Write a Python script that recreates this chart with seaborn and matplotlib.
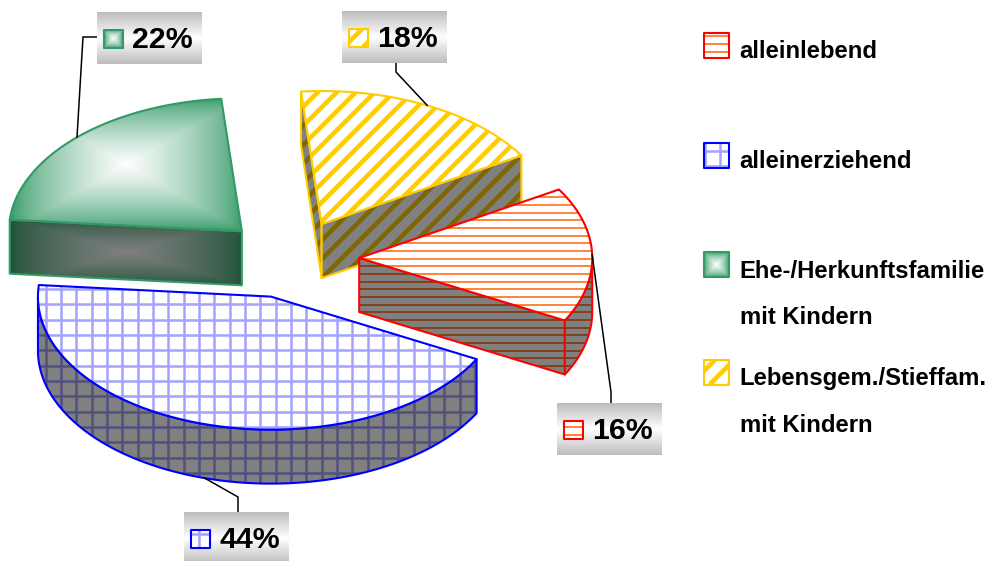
import numpy as np
import matplotlib
matplotlib.use("Agg")
import matplotlib.pyplot as plt
import seaborn as sns
from matplotlib.collections import LineCollection
from matplotlib.patches import Polygon

# ── Data ──────────────────────────────────────────────────────────────────────
categories = ["alleinlebend", "alleinerziehend",
              "Ehe-/Herkunftsfamilie\nmit Kindern",
              "Lebensgem./Stieffam.\nmit Kindern"]
shares = [16.4, 43.6, 22.2, 17.8]

# ── Look of the slices ────────────────────────────────────────────────────────
EDGES = ["#FF0000", "#0000FF", "#339966", "#FFCC00"]
HATCH_TOP = ["#FF7A26", "#A3A3FF", None, "#FFCC00"]
HATCH_SIDE = ["#803D13", "#515180", None, "#806600"]
HATCH_KIND = ["horizontal", "grid", "gradient", "diagonal"]

# pie geometry in pixels
CX, CY = 290.5, 259
RX, RY = 233, 133
DEPTH = 54
EXPLODE = 0.295
START = 31

# label boxes: x, y of the box corner, and the elbow of the leader line
BOXES = [(557, 403), (184, 512), (97, 12), (342, 11)]
ELBOWS = [(611, 392), (238, 497), (83, 37), (396, 72)]
BOX_W, BOX_H = 105, 52
LEADER_ENDS = [(611, 403), (238, 512), (97, 37), (396, 62)]

LEGEND_KEYS_Y = [33, 143, 252, 360]
LEGEND_LINE_Y = [[51], [161], [271, 317], [378, 425]]

FONT = ["Liberation Sans", "DejaVu Sans"]


def ell(t, apex, drop=0):
    t = np.radians(t)
    return np.column_stack([apex[0] + RX * np.cos(t), apex[1] - RY * np.sin(t) + drop])


def hatch(ax, patch, kind, color, lw):
    x0, y0 = patch.get_xy().min(axis=0)
    x1, y1 = patch.get_xy().max(axis=0)
    segs = []
    if kind == "horizontal":
        for y in 212.7 + 7.67 * np.arange(-40, 60):
            if y0 <= y <= y1:
                segs.append([(x0, y), (x1, y)])
    elif kind == "grid":
        for y in 289 + 15.33 * np.arange(-30, 30):
            if y0 <= y <= y1:
                segs.append([(x0, y), (x1, y)])
        for x in 45.7 + 15.33 * np.arange(-10, 70):
            if x0 <= x <= x1:
                segs.append([(x, y0), (x, y1)])
    elif kind == "diagonal":
        for c in 11 + 19 * np.arange(0, 100):
            segs.append([(c - y0, y0), (c - y1, y1)])
    lc = LineCollection(segs, colors=color, linewidths=lw, zorder=patch.get_zorder())
    ax.add_collection(lc, autolim=False)
    lc.set_clip_path(patch)


def rect_gradient(ax, patch, cmap):
    x0, y0 = patch.get_xy().min(axis=0)
    x1, y1 = patch.get_xy().max(axis=0)
    u, v = np.meshgrid(np.linspace(-1, 1, 200), np.linspace(-1, 1, 200))
    level = (1 - np.maximum(abs(u), abs(v))) ** 0.7
    im = ax.imshow(level, cmap=cmap, vmin=0, vmax=1,
                   extent=(x0, x1, y1, y0), aspect="auto",
                   zorder=patch.get_zorder(), interpolation="bilinear")
    im.set_clip_path(patch)


def face(ax, pts, i, top, z):
    # one face of a slice: fill, pattern, outline
    kind = HATCH_KIND[i]
    base = Polygon(pts, closed=True, facecolor="white" if top else "#808080",
                   edgecolor="none", zorder=z)
    ax.add_patch(base)
    if kind == "gradient":
        rect_gradient(ax, base, GREEN_TOP if top else GREEN_SIDE)
    else:
        width = {"horizontal": 1.3, "grid": 1.8, "diagonal": 3.3}[kind]
        hatch(ax, base, kind, HATCH_TOP[i] if top else HATCH_SIDE[i], width)
    ax.add_patch(Polygon(pts, closed=True, facecolor="none", edgecolor=EDGES[i],
                         linewidth=1.5, joinstyle="round", zorder=z))


def key(ax, x, y, size, i, z=20):
    pts = [(x, y), (x + size, y), (x + size, y + size), (x, y + size)]
    face(ax, pts, i, True, z)


sns.set_theme(style="white")
plt.rcParams["font.family"] = FONT

GREEN_TOP = sns.blend_palette(["#339966", "#FFFFFF"], as_cmap=True)
GREEN_SIDE = sns.blend_palette(["#1F5237", "#808080"], as_cmap=True)
BOX_CMAP = sns.blend_palette(["#BDBDBD", "#FFFFFF", "#BDBDBD"], as_cmap=True)

fig = plt.figure(figsize=(9.93, 5.61), dpi=100)
ax = fig.add_axes([0, 0, 1, 1])

# ── Slices ────────────────────────────────────────────────────────────────────
stops = START - 3.6 * np.concatenate([[0], np.cumsum(shares)])
anchors = []
apexes = []
for i in range(len(shares)):
    t0, t1 = stops[i], stops[i + 1]
    mid = np.radians((t0 + t1) / 2)
    apex = (CX + EXPLODE * RX * np.cos(mid), CY - EXPLODE * RY * np.sin(mid))
    apexes.append(apex)
    # leader line starts on the rim, on the lower edge for the front slice
    drop = DEPTH if np.sin(mid) < -0.5 else 0
    anchors.append(ell(np.degrees(mid), apex, drop)[0])

draw_order = [3, 2, 0, 1]
for n, i in enumerate(draw_order):
    t0, t1 = stops[i], stops[i + 1]
    apex = apexes[i]
    z = 5 + n
    arc = ell(np.linspace(t0, t1, 160), apex)

    # walls that face the viewer
    for t, visible in [(t0, np.cos(np.radians(t0)) < 0), (t1, np.cos(np.radians(t1)) > 0)]:
        if visible:
            rim = ell(t, apex)[0]
            pts = [apex, rim, (rim[0], rim[1] + DEPTH), (apex[0], apex[1] + DEPTH)]
            face(ax, pts, i, False, z)
    ts = np.linspace(t0, t1, 300)
    ts = ts[np.sin(np.radians(ts)) < 0]
    if len(ts):
        upper = ell(ts, apex)
        lower = ell(ts[::-1], apex, DEPTH)
        face(ax, np.vstack([upper, lower]), i, False, z)

    # top of the slice
    face(ax, np.vstack([[apex], arc]), i, True, z + 0.5)

# ── Leader lines and value boxes ──────────────────────────────────────────────
for i, share in enumerate(shares):
    a = anchors[i]
    ex, ey = ELBOWS[i]
    lx, ly = LEADER_ENDS[i]
    ax.plot([a[0], ex, lx], [a[1], ey, ly], color="black", lw=1.1, zorder=15,
            solid_joinstyle="miter")
    bx, by = BOXES[i]
    g = np.linspace(0, 1, 100).reshape(-1, 1)
    ax.imshow(g, cmap=BOX_CMAP, vmin=0, vmax=1, aspect="auto",
              extent=(bx, bx + BOX_W, by + BOX_H, by), zorder=16,
              interpolation="bilinear")
    key(ax, bx + 7, by + 17.5, 18.5, i)
    ax.text(bx + 35, by + 27.5, f"{round(share)}%", fontsize=21.8, fontweight="bold",
            color="black", va="center", ha="left", zorder=21)

# ── Legend ────────────────────────────────────────────────────────────────────
for i, cat in enumerate(categories):
    key(ax, 704, LEGEND_KEYS_Y[i], 24.5, i)
    for line, y in zip(cat.split("\n"), LEGEND_LINE_Y[i]):
        ax.text(739.5, y + 0.5, line, fontsize=17.2, fontweight="bold", color="black",
                va="center", ha="left", zorder=21)

ax.set_xlim(0, 993)
ax.set_ylim(561, 0)
ax.axis("off")

fig.savefig("out.png", dpi=100)
